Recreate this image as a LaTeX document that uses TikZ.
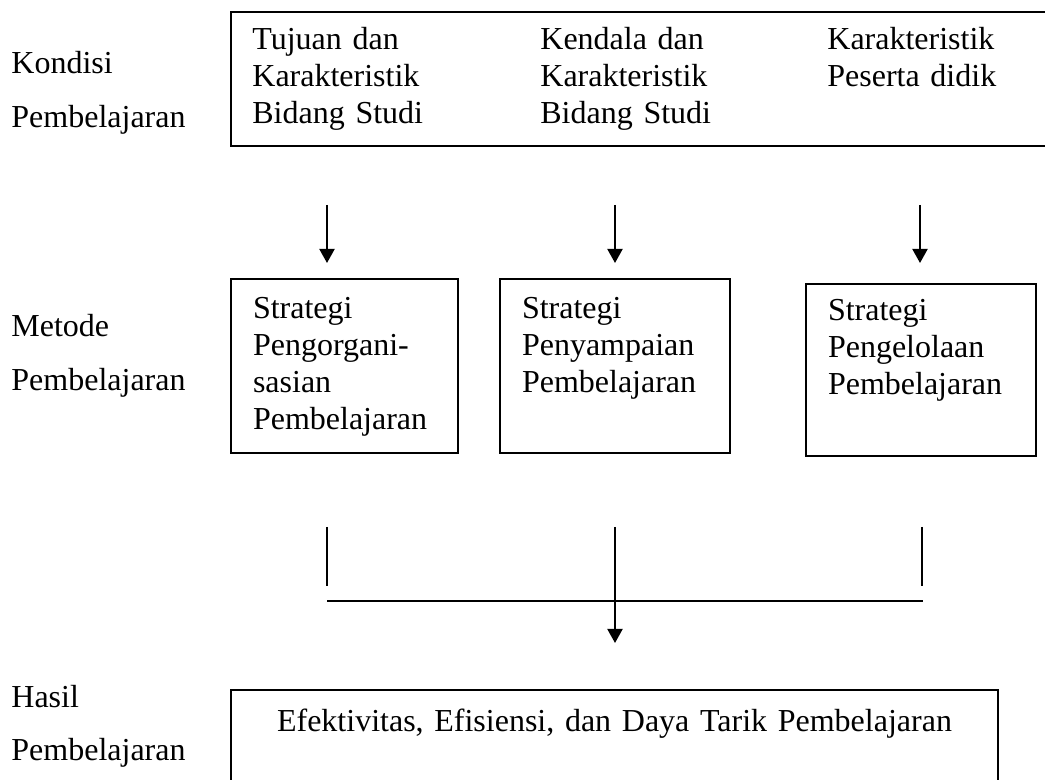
\documentclass[tikz,border=0pt]{standalone}
\usepackage{fontspec}
\setmainfont{Liberation Serif}
\usetikzlibrary{arrows.meta}

\tikzset{
  teks/.style={inner sep=0pt, text width=100pt, align=left, anchor=base west, font=\fontsize{16}{18.5}\selectfont},
  judul/.style={inner sep=0pt, text width=100pt, align=left, anchor=base west, font=\fontsize{16}{26.75}\selectfont},
  bingkai/.style={draw, line width=1pt, inner sep=0pt, anchor=north west},
  kotak/.style={draw, line width=1pt, anchor=north west, align=left, font=\fontsize{16}{18.5}\selectfont, inner xsep=11pt, inner ysep=0pt, text height=20pt},
  panah/.style={line width=1pt, -{Triangle[width=7.5pt,length=7pt]}},
  garis/.style={line width=1pt}
}

\begin{document}
\begin{tikzpicture}[x=0.5pt,y=-0.5pt]
            \useasboundingbox (0,0) rectangle (1045,780);
            \clip (0,0) rectangle (1045,780);
            % kondisi pembelajaran
            \node[judul] (kondisi) at (11,74) {Kondisi\\Pembelajaran};
            \node[bingkai, minimum width=410pt, minimum height=67pt] (kond) at (230,11) {};
            \node[teks] (tujuan) at (252,50) {Tujuan dan\\Karakteristik\\Bidang Studi};
            \node[teks] (kendala) at (540,50) {Kendala dan\\Karakteristik\\Bidang Studi};
            \node[teks] (peserta) at (827,50) {Karakteristik\\Peserta didik};
            % metode pembelajaran
            \node[judul] (metode) at (11,337) {Metode\\Pembelajaran};
            \node[kotak, text width=91.5pt, text depth=67pt] (org) at (230,278)
            {Strategi\\Pengorgani-\\sasian\\Pembelajaran};
            \node[kotak, text width=93pt, text depth=67pt] (sam) at (499,278)
            {Strategi\\Penyampaian\\Pembelajaran};
            \node[kotak, text width=93pt, text height=18.5pt, text depth=67.5pt] (kel) at (805,283)
            {Strategi\\Pengelolaan\\Pembelajaran};
            \coordinate (p1) at (327,205);
            \coordinate (p2) at (615,205);
            \coordinate (p3) at (920,205);
            \draw[panah, shorten >=7.5pt] (p1) -- (p1 |- org.north);
            \draw[panah, shorten >=7.5pt] (p2) -- (p2 |- sam.north);
            \draw[panah, shorten >=10pt] (p3) -- (p3 |- kel.north);
            % hasil pembelajaran
            \node[judul] (hasil) at (11,707) {Hasil\\Pembelajaran};
            \node[kotak, align=center, text width=361.5pt, text height=20.5pt, text depth=50pt] (efek) at (230,689)
            {Efektivitas, Efisiensi, dan Daya Tarik Pembelajaran};
            \coordinate (q1) at (327,527);
            \coordinate (q2) at (615,527);
            \coordinate (q3) at (922,527);
            \coordinate (h1) at (327,601);
            \coordinate (h3) at (923,601);
            \draw[garis] (q1) -- ++(0,59);
            \draw[garis] (q3) -- ++(0,59);
            \draw[garis] (h1) -- (h3);
            \draw[panah, shorten >=23pt] (q2) -- (q2 |- efek.north);
        \end{tikzpicture}
\end{document}
